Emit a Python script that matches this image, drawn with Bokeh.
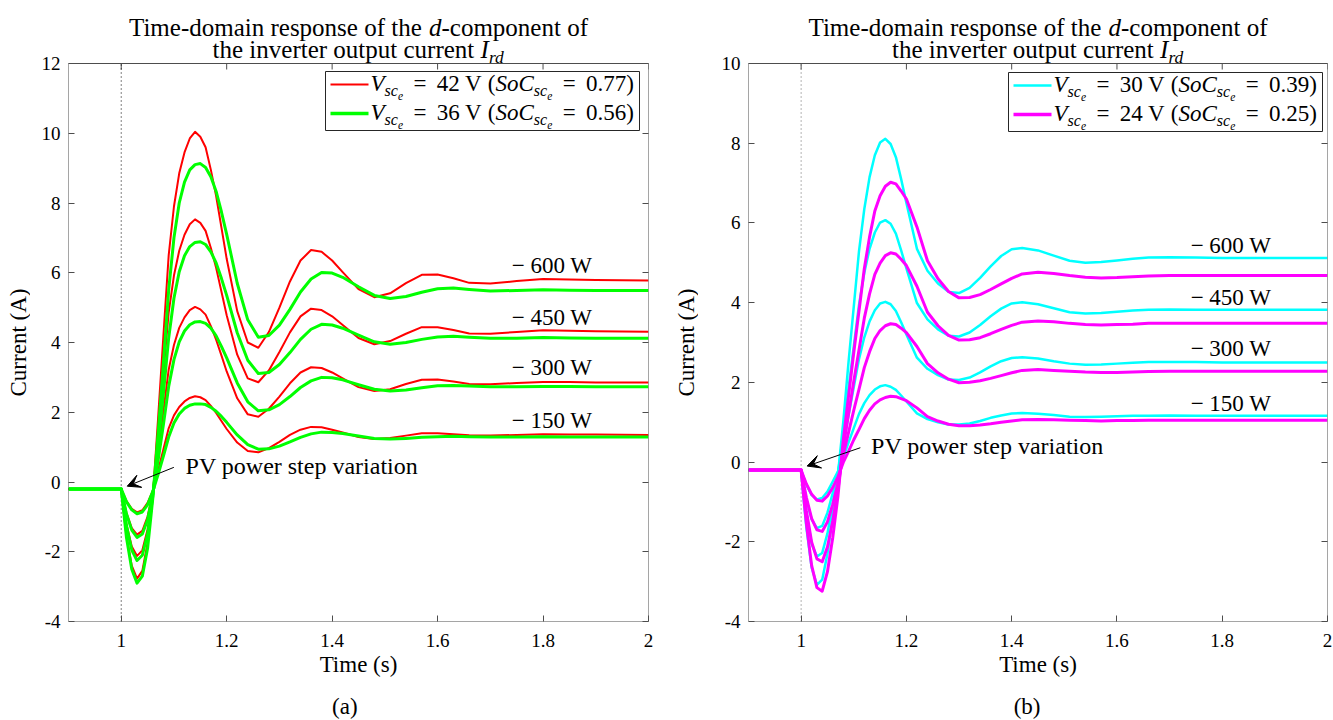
import math
from bokeh.plotting import figure
from bokeh.models import (Label, BoxAnnotation, Arrow, VeeHead, LinearAxis,
                          FixedTicker, CustomJSTickFormatter, Range1d)
from bokeh.layouts import row, column
from bokeh.embed import file_html
from bokeh.resources import INLINE

# ---------------- data ----------------
TIME = [0.9, 1.0, 1.005, 1.01, 1.02, 1.03, 1.04, 1.05, 1.06, 1.07, 1.08, 1.09, 1.10, 1.11,
        1.12, 1.13, 1.14, 1.15, 1.16, 1.17, 1.18, 1.19, 1.20, 1.22, 1.24, 1.26, 1.28, 1.30,
        1.32, 1.34, 1.36, 1.38, 1.40, 1.42, 1.45, 1.48, 1.51, 1.54, 1.57, 1.60, 1.63, 1.66,
        1.70, 1.75, 1.80, 1.85, 1.90, 2.0]
STEP_TIME = 1.0

# panel (a): Vsc = 42 V (red)
I_42V_600W = [-0.2, -0.2, -0.9, -1.55, -2.4, -2.77, -2.55, -1.75, -0.4, 1.85, 4.2, 6.5, 7.9, 8.85, 9.45, 9.85, 10.04, 9.9, 9.6, 8.95, 8.2, 7.3, 6.4, 4.9, 4.0, 3.85, 4.3, 5.0, 5.75, 6.35, 6.65, 6.6, 6.35, 6.02, 5.53, 5.3, 5.41, 5.7, 5.94, 5.95, 5.84, 5.71, 5.69, 5.76, 5.82, 5.81, 5.79, 5.78]
I_42V_450W = [-0.2, -0.2, -0.73, -1.22, -1.85, -2.12, -1.96, -1.36, -0.35, 1.35, 3.12, 4.86, 5.92, 6.63, 7.09, 7.39, 7.53, 7.43, 7.2, 6.71, 6.14, 5.46, 4.78, 3.65, 2.97, 2.86, 3.2, 3.73, 4.29, 4.75, 4.97, 4.93, 4.75, 4.5, 4.13, 3.95, 4.04, 4.25, 4.44, 4.44, 4.36, 4.26, 4.25, 4.3, 4.35, 4.34, 4.32, 4.31]
I_42V_300W = [-0.2, -0.2, -0.56, -0.89, -1.32, -1.51, -1.4, -0.99, -0.3, 0.85, 2.04, 3.22, 3.93, 4.42, 4.72, 4.93, 5.02, 4.95, 4.8, 4.47, 4.08, 3.63, 3.17, 2.4, 1.94, 1.87, 2.1, 2.45, 2.83, 3.14, 3.29, 3.27, 3.14, 2.97, 2.72, 2.61, 2.66, 2.81, 2.93, 2.94, 2.88, 2.81, 2.8, 2.84, 2.87, 2.87, 2.85, 2.85]
I_42V_150W = [-0.2, -0.2, -0.38, -0.55, -0.77, -0.87, -0.81, -0.6, -0.25, 0.33, 0.94, 1.54, 1.91, 2.15, 2.31, 2.41, 2.46, 2.43, 2.35, 2.18, 1.98, 1.75, 1.52, 1.13, 0.89, 0.85, 0.97, 1.15, 1.35, 1.5, 1.58, 1.57, 1.5, 1.42, 1.29, 1.23, 1.26, 1.33, 1.4, 1.4, 1.37, 1.34, 1.33, 1.35, 1.37, 1.36, 1.36, 1.35]
# panel (a): Vsc = 36 V (green)
I_36V_600W = [-0.2, -0.2, -0.9, -1.6, -2.5, -2.9, -2.7, -1.9, -0.45, 1.4, 3.4, 5.5, 7.0, 8.0, 8.6, 8.95, 9.1, 9.13, 9.02, 8.75, 8.33, 7.75, 7.1, 5.7, 4.65, 4.15, 4.2, 4.5, 4.95, 5.45, 5.82, 6.01, 5.99, 5.87, 5.6, 5.35, 5.26, 5.32, 5.44, 5.54, 5.56, 5.52, 5.48, 5.49, 5.51, 5.5, 5.49, 5.49]
I_36V_450W = [-0.2, -0.2, -0.73, -1.26, -1.95, -2.25, -2.1, -1.49, -0.39, 1.02, 2.54, 4.13, 5.27, 6.03, 6.49, 6.75, 6.87, 6.89, 6.81, 6.6, 6.28, 5.84, 5.35, 4.28, 3.49, 3.11, 3.14, 3.37, 3.71, 4.09, 4.38, 4.52, 4.5, 4.41, 4.21, 4.02, 3.95, 4.0, 4.09, 4.16, 4.18, 4.15, 4.12, 4.12, 4.14, 4.13, 4.12, 4.12]
I_36V_300W = [-0.2, -0.2, -0.56, -0.92, -1.38, -1.59, -1.49, -1.08, -0.33, 0.62, 1.65, 2.74, 3.51, 4.02, 4.33, 4.51, 4.59, 4.6, 4.55, 4.41, 4.19, 3.89, 3.56, 2.84, 2.3, 2.04, 2.07, 2.22, 2.45, 2.71, 2.9, 3.0, 2.99, 2.93, 2.79, 2.66, 2.61, 2.64, 2.7, 2.76, 2.77, 2.75, 2.73, 2.73, 2.74, 2.74, 2.73, 2.73]
I_36V_150W = [-0.2, -0.2, -0.38, -0.57, -0.8, -0.91, -0.86, -0.65, -0.27, 0.22, 0.74, 1.29, 1.69, 1.95, 2.11, 2.2, 2.24, 2.24, 2.22, 2.14, 2.03, 1.88, 1.71, 1.35, 1.07, 0.94, 0.95, 1.03, 1.15, 1.28, 1.38, 1.43, 1.42, 1.39, 1.32, 1.25, 1.23, 1.25, 1.28, 1.3, 1.31, 1.3, 1.29, 1.29, 1.3, 1.29, 1.29, 1.29]
# panel (b): Vsc = 30 V (cyan)
I_30V_600W = [-0.2, -0.2, -0.95, -1.65, -2.65, -3.08, -2.95, -2.3, -1.35, -0.3, 1.0, 2.5, 3.9, 5.3, 6.35, 7.15, 7.7, 8.02, 8.11, 7.98, 7.65, 7.1, 6.5, 5.35, 4.8, 4.48, 4.27, 4.24, 4.37, 4.62, 4.91, 5.17, 5.34, 5.37, 5.31, 5.18, 5.05, 5.0, 5.02, 5.06, 5.1, 5.13, 5.14, 5.13, 5.12, 5.12, 5.12, 5.12]
I_30V_450W = [-0.2, -0.2, -0.77, -1.29, -2.05, -2.37, -2.28, -1.79, -1.07, -0.28, 0.71, 1.84, 2.9, 3.95, 4.75, 5.35, 5.76, 6.01, 6.07, 5.98, 5.73, 5.31, 4.86, 3.99, 3.58, 3.33, 3.17, 3.15, 3.25, 3.44, 3.66, 3.85, 3.98, 4.01, 3.96, 3.86, 3.76, 3.73, 3.74, 3.77, 3.8, 3.82, 3.83, 3.82, 3.82, 3.82, 3.82, 3.82]
I_30V_300W = [-0.2, -0.2, -0.58, -0.94, -1.44, -1.66, -1.6, -1.27, -0.78, -0.25, 0.41, 1.17, 1.88, 2.59, 3.13, 3.53, 3.81, 3.98, 4.02, 3.96, 3.79, 3.51, 3.2, 2.62, 2.34, 2.18, 2.07, 2.06, 2.12, 2.25, 2.4, 2.53, 2.61, 2.63, 2.6, 2.53, 2.47, 2.44, 2.45, 2.47, 2.49, 2.51, 2.51, 2.51, 2.5, 2.5, 2.5, 2.5]
I_30V_150W = [-0.2, -0.2, -0.39, -0.57, -0.83, -0.94, -0.9, -0.74, -0.49, -0.23, 0.11, 0.49, 0.85, 1.21, 1.48, 1.68, 1.82, 1.9, 1.93, 1.89, 1.81, 1.67, 1.52, 1.22, 1.08, 1.0, 0.94, 0.94, 0.97, 1.03, 1.11, 1.17, 1.22, 1.23, 1.21, 1.18, 1.14, 1.13, 1.14, 1.15, 1.16, 1.16, 1.17, 1.16, 1.16, 1.16, 1.16, 1.16]
# panel (b): Vsc = 24 V (magenta)
I_24V_600W = [-0.2, -0.2, -0.9, -1.55, -2.6, -3.15, -3.24, -2.75, -1.9, -0.85, 0.55, 1.65, 2.75, 3.8, 4.85, 5.65, 6.3, 6.68, 6.92, 7.02, 6.98, 6.8, 6.6, 5.9, 5.05, 4.6, 4.28, 4.12, 4.13, 4.2, 4.33, 4.47, 4.61, 4.72, 4.76, 4.73, 4.68, 4.64, 4.62, 4.63, 4.65, 4.67, 4.68, 4.68, 4.68, 4.68, 4.68, 4.68]
I_24V_450W = [-0.2, -0.2, -0.73, -1.22, -2.01, -2.43, -2.5, -2.13, -1.48, -0.69, 0.37, 1.2, 2.03, 2.82, 3.61, 4.22, 4.71, 4.99, 5.18, 5.25, 5.22, 5.09, 4.93, 4.41, 3.76, 3.42, 3.18, 3.06, 3.07, 3.12, 3.22, 3.33, 3.43, 3.51, 3.54, 3.52, 3.48, 3.45, 3.44, 3.45, 3.46, 3.48, 3.48, 3.48, 3.48, 3.48, 3.48, 3.48]
I_24V_300W = [-0.2, -0.2, -0.56, -0.89, -1.42, -1.7, -1.74, -1.5, -1.06, -0.53, 0.18, 0.74, 1.3, 1.83, 2.37, 2.77, 3.1, 3.3, 3.42, 3.47, 3.45, 3.36, 3.25, 2.9, 2.47, 2.24, 2.08, 1.99, 2.0, 2.04, 2.1, 2.17, 2.24, 2.3, 2.32, 2.3, 2.28, 2.26, 2.25, 2.25, 2.26, 2.27, 2.28, 2.28, 2.28, 2.28, 2.28, 2.28]
I_24V_150W = [-0.2, -0.2, -0.38, -0.55, -0.81, -0.96, -0.98, -0.85, -0.64, -0.37, -0.01, 0.27, 0.56, 0.82, 1.09, 1.3, 1.46, 1.56, 1.62, 1.65, 1.64, 1.59, 1.54, 1.36, 1.14, 1.03, 0.95, 0.91, 0.91, 0.93, 0.96, 1.0, 1.03, 1.06, 1.07, 1.06, 1.05, 1.04, 1.03, 1.04, 1.04, 1.05, 1.05, 1.05, 1.05, 1.05, 1.05, 1.05]

POWER_LABELS = ["600 W", "450 W", "300 W", "150 W"]
X_TICKS = [1.0, 1.2, 1.4, 1.6, 1.8, 2.0]
Y_TICKS_A = [-4, -2, 0, 2, 4, 6, 8, 10, 12]
Y_TICKS_B = [-4, -2, 0, 2, 4, 6, 8, 10]
VOLT_A, SOC_A = ["42", "36"], ["0.77", "0.56"]
VOLT_B, SOC_B = ["30", "24"], ["0.39", "0.25"]

for arr in [I_42V_600W, I_42V_450W, I_42V_300W, I_42V_150W, I_36V_600W, I_36V_450W,
            I_36V_300W, I_36V_150W, I_30V_600W, I_30V_450W, I_30V_300W, I_30V_150W,
            I_24V_600W, I_24V_450W, I_24V_300W, I_24V_150W]:
    assert len(arr) == len(TIME)

# ---------------- text helpers ----------------
FONT = "Liberation Serif"
MID = 0.3375  # distance (em) from alphabetic baseline up to the em-box middle
W_REG = {' ': 250, '(': 333, ')': 333, '.': 250, '-': 333, '=': 564, 'A': 722, 'C': 667,
         'T': 611, 'V': 722, 'W': 944, 'P': 556, 'a': 444, 'c': 444, 'd': 500, 'e': 444,
         'f': 333, 'h': 500, 'i': 278, 'm': 778, 'n': 500, 'o': 500, 'p': 500, 'r': 333,
         's': 389, 't': 278, 'u': 500, 'v': 500, 'w': 722}
for _c in "0123456789":
    W_REG[_c] = 500
W_IT = {'V': 611, 'S': 500, 'C': 667, 'I': 333, 'o': 500, 's': 389, 'c': 444, 'e': 444,
        'r': 389, 'd': 500, ' ': 250}


def seg_width(text, italic, size):
    tab = W_IT if italic else W_REG
    return sum(tab.get(ch, 500) for ch in text) * size / 1000.0


def rich(p, x, y, segs, size, units="screen", align="left"):
    """y is the alphabetic baseline of the main-size text."""
    total = 0.0
    for s in segs:
        total += s[1] * size if s[0] is None else seg_width(s[0], s[1], size * s[2])
    off = -total / 2.0 if align == "center" else 0.0
    for s in segs:
        if s[0] is None:
            off += s[1] * size
            continue
        text, italic, rel, drop = s
        fs = size * rel
        lead = len(text) - len(text.lstrip(' '))
        off += lead * 250 * fs / 1000.0
        core = text.strip(' ')
        if core:
            p.add_layout(Label(x=x, y=y, x_units=units, y_units=units, x_offset=off,
                               y_offset=-drop * size + MID * fs, text=core, text_font=FONT,
                               text_font_style="italic" if italic else "normal",
                               text_font_size=f"{fs:.1f}px", text_baseline="middle",
                               text_align="left", text_color="black"))
        off += seg_width(core, italic, fs)
        trail = len(text) - len(text.rstrip(' '))
        off += trail * 250 * fs / 1000.0


def legend_segs(volt, soc):
    return [("V", True, 1, 0), ("sc", True, 0.7, 0.2), ("e", True, 0.5, 0.38),
            (None, 0.45), ("=", False, 1, 0), (None, 0.45),
            (f"{volt} V", False, 1, 0), (None, 0.25), ("(", False, 1, 0),
            ("SoC", True, 1, 0), ("sc", True, 0.7, 0.2), ("e", True, 0.5, 0.38),
            (None, 0.45), ("=", False, 1, 0), (None, 0.45), (f"{soc})", False, 1, 0)]


# ---------------- layout constants (pixels) ----------------
PLOT_H = 558          # height of the axes box
TITLE_H = 63          # space above the axes box (inside the frame) for the title
FRAME_H = PLOT_H + TITLE_H
BOTTOM_B = 63
CAP_H = 36
TOTAL_H = FRAME_H + BOTTOM_B + CAP_H
YLAB_W = 30
AX_COLOR = "#4d4d4d"
TICK_LEN = 6


def blank_fig(width, height):
    f = figure(width=width, height=height, x_range=Range1d(0, width),
               y_range=Range1d(0, height), output_backend="svg", toolbar_location=None,
               min_border=0, x_axis_type=None, y_axis_type=None, title=None)
    f.outline_line_color = None
    f.background_fill_color = "white"
    f.border_fill_color = "white"
    return f


def ylabel_fig():
    f = blank_fig(YLAB_W, TOTAL_H)
    f.add_layout(Label(x=18, y=TOTAL_H - (TITLE_H + PLOT_H / 2.0), text="Current (A)",
                       angle=math.pi / 2, text_font=FONT, text_font_size="23px",
                       text_align="center", text_baseline="middle", text_color="black"))
    return f


def caption_fig(width, cx, caption):
    f = blank_fig(width, CAP_H)
    f.add_layout(Label(x=cx, y=CAP_H - 22, text=caption, text_font=FONT,
                       text_font_size="23px", text_align="center", text_baseline="middle",
                       text_color="black"))
    return f


def make_panel(fw, bl, br, ylo, yhi, yticks):
    per_px = (yhi - ylo) / PLOT_H
    ytop = yhi + TITLE_H * per_px
    p = figure(frame_width=fw, frame_height=FRAME_H, x_range=Range1d(0.9, 2.0),
               y_range=Range1d(ylo, ytop), output_backend="svg", toolbar_location=None,
               min_border_left=bl, min_border_right=br, min_border_top=0,
               min_border_bottom=BOTTOM_B, title=None)
    p.background_fill_color = "white"
    p.border_fill_color = "white"
    p.xgrid.grid_line_color = None
    p.ygrid.grid_line_color = None
    p.outline_line_color = None
    bottom = p.below[0]
    left = p.left[0]
    bottom.ticker = FixedTicker(ticks=X_TICKS)
    bottom.formatter = CustomJSTickFormatter(code="return String(Math.round(tick*10)/10);")
    left.ticker = FixedTicker(ticks=yticks)
    left.formatter = CustomJSTickFormatter(code="return String(tick);")
    right = LinearAxis(ticker=FixedTicker(ticks=yticks),
                       formatter=CustomJSTickFormatter(code="return '';"))
    p.add_layout(right, "right")
    for ax in [bottom, left, right]:
        ax.axis_line_color = None
        ax.major_tick_line_color = AX_COLOR
        ax.major_tick_in = TICK_LEN
        ax.major_tick_out = 0
        ax.minor_tick_line_color = None
        ax.major_label_text_font = FONT
        ax.major_label_text_font_size = "19px"
        ax.major_label_text_color = "black"
    right.major_label_standoff = 0
    right.major_label_text_font_size = "0px"
    bottom.major_label_standoff = 12
    left.major_label_standoff = 8
    bottom.axis_label = "Time (s)"
    bottom.axis_label_text_font = FONT
    bottom.axis_label_text_font_size = "23px"
    bottom.axis_label_text_font_style = "normal"
    bottom.axis_label_text_color = "black"
    bottom.axis_label_standoff = 2
    # axes box
    p.add_layout(BoxAnnotation(left=0.9, right=2.0, bottom=ylo, top=yhi, fill_alpha=0.0,
                               line_color=AX_COLOR, line_alpha=1.0, line_width=1))
    # inward ticks along the top edge of the box
    n = len(X_TICKS)
    p.segment(x0=X_TICKS, y0=[yhi] * n, x1=X_TICKS, y1=[yhi - TICK_LEN * per_px] * n,
              line_color=AX_COLOR, line_width=1)
    # title (two lines, centred over the box)
    rich(p, fw / 2.0, FRAME_H - 35, [("Time-domain response of the ", False, 1, 0),
                                      ("d", True, 1, 0), ("-component of", False, 1, 0)],
         25, align="center")
    rich(p, fw / 2.0, FRAME_H - 57, [("the inverter output current ", False, 1, 0),
                                      ("I", True, 1, 0), ("rd", True, 0.7, 0.2)],
         25, align="center")
    return p


def add_legend(p, left, top, entries):
    box_w, box_h = 314, 59
    p.add_layout(BoxAnnotation(left=left, right=left + box_w, top=top, bottom=top - box_h,
                               left_units="screen", right_units="screen",
                               top_units="screen", bottom_units="screen",
                               fill_color="white", fill_alpha=1.0, line_color="#262626",
                               line_alpha=1.0, line_width=1))
    for i, (color, lw, segs) in enumerate(entries):
        yc = top - 13 - i * 29
        p.add_layout(BoxAnnotation(left=left + 5, right=left + 43, bottom=yc - lw / 2.0,
                                   top=yc + lw / 2.0, left_units="screen",
                                   right_units="screen", top_units="screen",
                                   bottom_units="screen", fill_color=color,
                                   fill_alpha=1.0, line_color=None))
        rich(p, left + 45, yc - 7, segs, 23)


# ---------------- panel (a) ----------------
BLA, FWA, BRA = 38, 580, 20
pa = make_panel(FWA, BLA, BRA, -4, 12, Y_TICKS_A)
pa.segment(x0=[STEP_TIME], y0=[-4], x1=[STEP_TIME], y1=[12], line_color="black",
           line_dash="1 3", line_width=1)
for arr in [I_42V_600W, I_42V_450W, I_42V_300W, I_42V_150W]:
    pa.line(TIME, arr, line_color="#ff0000", line_width=2, line_join="round")
for arr in [I_36V_600W, I_36V_450W, I_36V_300W, I_36V_150W]:
    pa.line(TIME, arr, line_color="#00ff00", line_width=3, line_join="round")
for lbl, yv in zip(POWER_LABELS, [6.2, 4.71, 3.28, 1.77]):
    pa.add_layout(Label(x=1.7405, y=yv, text="\u2212 " + lbl, text_font=FONT,
                        text_font_size="23px", text_baseline="middle", text_color="black"))
pa.add_layout(Label(x=1.122, y=0.466, text="PV power step variation", text_font=FONT,
                    text_font_size="24px", text_baseline="middle", text_color="black"))
pa.add_layout(Arrow(end=VeeHead(size=13, fill_color="black", line_color="black"),
                    x_start=1.0998, y_start=0.42, x_end=1.0114, y_end=-0.12,
                    line_color="black", line_width=1))
add_legend(pa, 257, PLOT_H - 8, [("#ff0000", 2, legend_segs(VOLT_A[0], SOC_A[0])),
                                 ("#00ff00", 3.5, legend_segs(VOLT_A[1], SOC_A[1]))])

# ---------------- panel (b) ----------------
BLB, FWB, BRB = 50, 579, 6
pb = make_panel(FWB, BLB, BRB, -4, 10, Y_TICKS_B)
pb.segment(x0=[STEP_TIME], y0=[-4], x1=[STEP_TIME], y1=[10], line_color="#666666",
           line_dash="1 3", line_width=1)
for arr in [I_30V_600W, I_30V_450W, I_30V_300W, I_30V_150W]:
    pb.line(TIME, arr, line_color="#00ffff", line_width=2.5, line_join="round")
for arr in [I_24V_600W, I_24V_450W, I_24V_300W, I_24V_150W]:
    pb.line(TIME, arr, line_color="#ff00ff", line_width=3, line_join="round")
for lbl, yv in zip(POWER_LABELS, [5.43, 4.12, 2.84, 1.48]):
    pb.add_layout(Label(x=1.74, y=yv, text="\u2212 " + lbl, text_font=FONT,
                        text_font_size="23px", text_baseline="middle", text_color="black"))
pb.add_layout(Label(x=1.1328, y=0.40, text="PV power step variation", text_font=FONT,
                    text_font_size="24px", text_baseline="middle", text_color="black"))
pb.add_layout(Arrow(end=VeeHead(size=13, fill_color="black", line_color="black"),
                    x_start=1.1125, y_start=0.36, x_end=1.0114, y_end=-0.10,
                    line_color="black", line_width=1))
add_legend(pb, 260, PLOT_H - 9, [("#00ffff", 2.5, legend_segs(VOLT_B[0], SOC_B[0])),
                                 ("#ff00ff", 3.5, legend_segs(VOLT_B[1], SOC_B[1]))])

WA = BLA + FWA + BRA
WB = BLB + FWB + BRB
# captions are centred under each half of the figure
col_a = row(ylabel_fig(), column(pa, caption_fig(WA, (YLAB_W + WA) / 2.0 - YLAB_W, "(a)")))
col_b = row(ylabel_fig(), column(pb, caption_fig(WB, (YLAB_W + WB) / 2.0 - YLAB_W + 3, "(b)")))
layout = row(col_a, col_b)
open("out.html", "w").write(file_html(layout, INLINE))
